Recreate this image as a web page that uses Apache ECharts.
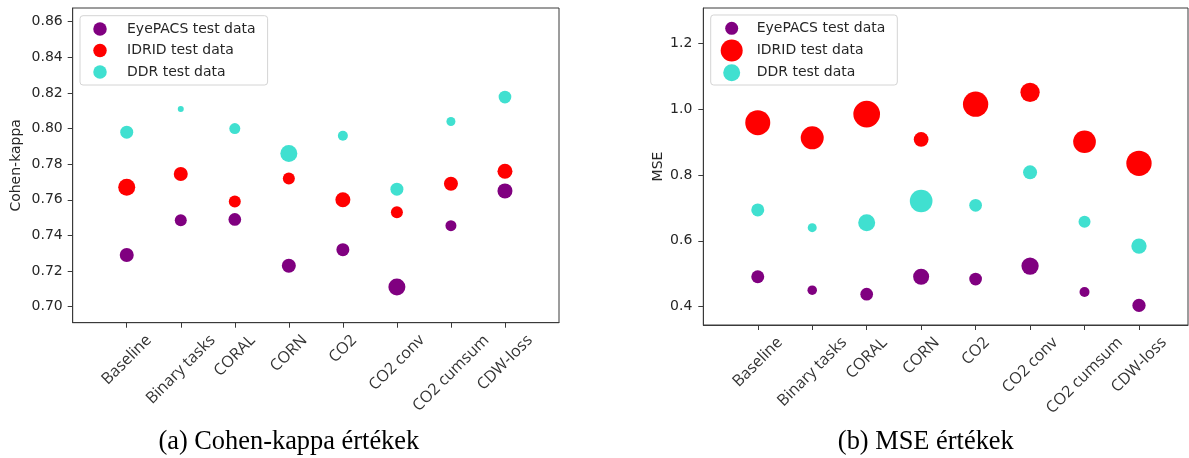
<!DOCTYPE html>
<html><head><meta charset="utf-8">
<script src="https://cdn.jsdelivr.net/npm/echarts@6/dist/echarts.min.js"></script>
<style>html,body{margin:0;padding:0;background:#fff}#c{width:1189px;height:458px}</style>
</head><body><div id="c"></div>
<script>
const categories = ['Baseline','Binary tasks','CORAL','CORN','CO2','CO2 conv','CO2 cumsum','CDW-loss'];
const seriesNames = ['EyePACS test data','IDRID test data','DDR test data'];
const seriesColors = ['#800080','#ff0000','#40e0d0'];

const kappaEyePACS = [0.729,0.7485,0.749,0.723,0.732,0.711,0.7455,0.765];
const kappaIDRID   = [0.767,0.7745,0.759,0.772,0.760,0.753,0.769,0.776];
const kappaDDR     = [0.798,0.811,0.800,0.786,0.796,0.766,0.804,0.8177];

const mseEyePACS = [0.491,0.450,0.438,0.491,0.484,0.5235,0.4445,0.404];
const mseIDRID   = [0.959,0.913,0.985,0.908,1.015,1.051,0.901,0.8355];
const mseDDR     = [0.694,0.640,0.655,0.721,0.708,0.808,0.658,0.584];

// bubble diameters
const kappaSizeEyePACS = [14,12,12.7,14,13,17,11,15];
const kappaSizeIDRID   = [17,14,12,12,15,12,14,15];
const kappaSizeDDR     = [13,6,11,17,10,13,9,12.7];
const mseSizeEyePACS = [13,9.5,12.7,16,12.7,17.3,10,13.3];
const mseSizeIDRID   = [25,23,26.7,14.7,25.3,19.3,22.7,25.3];
const mseSizeDDR     = [13,9,17,22.7,12.7,14,12,15.3];

const kappaTicks = [0.70,0.72,0.74,0.76,0.78,0.80,0.82,0.84,0.86];
const mseTicks = [0.4,0.6,0.8,1.0,1.2];
const captions = ['(a) Cohen-kappa értékek','(b) MSE értékek'];
const yNames = ['Cohen-kappa','MSE'];

const catIdx = categories.map((_, i) => i);
const frame = '#3a3a3a', txt = '#262626';

// category label styling: centre rotated label under its tick (matplotlib style)
const mctx = document.createElement('canvas').getContext('2d');
mctx.font = '16px "Open Sans"';
const catRich = {};
categories.forEach((n, i) => {
  const L = mctx.measureText(n).width;
  catRich['c' + i] = {fontFamily: 'Open Sans', fontSize: 16, color: '#333', padding: [L * 0.5, L * 0.5, 0, 0]};
});

function xAxis(gi, max) {
  return {
    type: 'value', gridIndex: gi, min: -1, max: max,
    axisLine: {show: true, onZero: false, lineStyle: {color: frame, width: 1}},
    axisTick: {show: true, length: 5, lineStyle: {color: frame}, customValues: catIdx},
    splitLine: {show: false},
    axisLabel: {
      customValues: catIdx, rotate: 45, align: 'center', verticalAlign: 'middle', margin: 15,
      formatter: v => { const i = Math.round(v); return '{c' + i + '|' + categories[i] + '}'; },
      rich: catRich
    }
  };
}
function yAxis(gi, min, max, ticks, dec, name, gap, margin) {
  return {
    type: 'value', gridIndex: gi, min: min, max: max,
    name: name, nameLocation: 'middle', nameGap: gap, nameRotate: 90,
    nameTextStyle: {fontFamily: 'DejaVu Sans', fontSize: 14, color: txt},
    axisLine: {show: true, onZero: false, lineStyle: {color: frame, width: 1}},
    axisTick: {show: true, length: 5, lineStyle: {color: frame}, customValues: ticks},
    splitLine: {show: false},
    axisLabel: {customValues: ticks, margin: margin, fontFamily: 'DejaVu Sans', fontSize: 14, color: txt,
      formatter: v => v.toFixed(dec)}
  };
}
function scat(gi, name, color, vals, sizes) {
  return {
    type: 'scatter', name: name, xAxisIndex: gi, yAxisIndex: gi,
    data: vals.map((v, i) => [i, v, sizes[i]]),
    symbolSize: d => d[2],
    itemStyle: {color: color, opacity: 1},
    emphasis: {disabled: true}, silent: true
  };
}
// legend icon: circle of diameter d centred in a w x h box
function circlePath(d, w, h) {
  const r = d / 2, cx = w / 2, cy = h / 2;
  return 'path://M0,0M' + w + ',' + h + 'M' + (cx - r) + ',' + cy + 'A' + r + ',' + r + ',0,1,0,' + (cx + r) + ',' + cy +
    'A' + r + ',' + r + ',0,1,0,' + (cx - r) + ',' + cy + 'Z';
}
const legendText = {fontFamily: 'DejaVu Sans', fontSize: 14, color: txt, lineHeight: 14};
const legendBox = {backgroundColor: 'rgba(255,255,255,0.8)', borderColor: '#d4d4d4', borderWidth: 1, borderRadius: 3, orient: 'vertical'};
const captionStyle = {fontFamily: 'Liberation Serif', fontSize: 26.4, fontWeight: 'normal', color: '#000'};

const option = {
  animation: false,
  backgroundColor: '#fff',
  title: [
    {text: captions[0], left: 288.8, top: 429, textAlign: 'center', textVerticalAlign: 'top', padding: 0, textStyle: captionStyle},
    {text: captions[1], left: 925.8, top: 429, textAlign: 'center', textVerticalAlign: 'top', padding: 0, textStyle: captionStyle}
  ],
  legend: [
    Object.assign({}, legendBox, {left: 80, top: 15.7, padding: [6.3, 12, 6, 0], itemGap: 7.5,
      itemWidth: 40, itemHeight: 14,
      data: seriesNames.map(n => ({name: n, icon: circlePath(13.5, 40, 14)})),
      textStyle: Object.assign({padding: [0,0,0,2]}, legendText)}),
    Object.assign({}, legendBox, {left: 710.7, top: 15, padding: [2.3, 12, 1.3, 1], itemGap: 0.2,
      itemWidth: 40, itemHeight: 22,
      data: [{name: seriesNames[0], icon: circlePath(13, 40, 22)}, {name: seriesNames[1], icon: circlePath(22, 40, 22)}, {name: seriesNames[2], icon: circlePath(17, 40, 22)}],
      textStyle: legendText})
  ],
  grid: [
    {left: 72.7, top: 8, width: 486.3, height: 314.7, show: true, borderColor: frame, borderWidth: 1, backgroundColor: 'transparent'},
    {left: 703.3, top: 8, width: 484.7, height: 317, show: true, borderColor: frame, borderWidth: 1, backgroundColor: 'transparent'}
  ],
  xAxis: [xAxis(0, 8), xAxis(1, 7.9)],
  yAxis: [
    yAxis(0, 0.6910, 0.8677, kappaTicks, 2, yNames[0], 49, 10),
    yAxis(1, 0.3444, 1.3072, mseTicks, 1, yNames[1], 38, 11)
  ],
  series: [
    scat(0, seriesNames[0], seriesColors[0], kappaEyePACS, kappaSizeEyePACS),
    scat(0, seriesNames[1], seriesColors[1], kappaIDRID, kappaSizeIDRID),
    scat(0, seriesNames[2], seriesColors[2], kappaDDR, kappaSizeDDR),
    scat(1, seriesNames[0], seriesColors[0], mseEyePACS, mseSizeEyePACS),
    scat(1, seriesNames[1], seriesColors[1], mseIDRID, mseSizeIDRID),
    scat(1, seriesNames[2], seriesColors[2], mseDDR, mseSizeDDR)
  ]
};
const chart = echarts.init(document.getElementById('c'), null, {renderer: 'canvas'});
chart.setOption(option);
</script>
</body></html>
